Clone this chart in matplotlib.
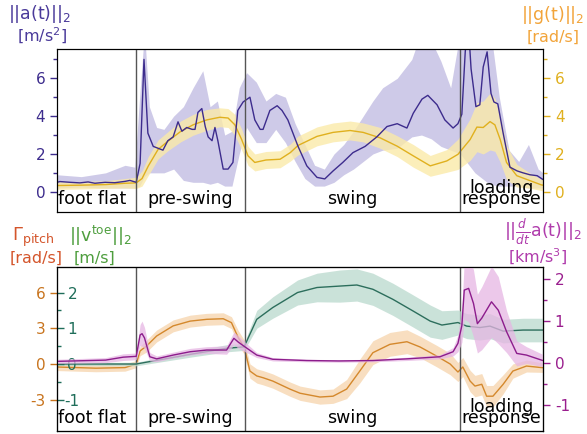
#Gait phase plot: IMU signals over one stride with mean and spread
import matplotlib.pyplot as plt

plt.rcParams["axes.unicode_minus"] = False

# phases (percent of stride)
phase_edges = [0, 16.3, 38.7, 82.9, 100]
phase_names = ["foot flat", "pre-swing", "swing", "loading\nresponse"]

# ||a(t)||_2 [m/s^2], mean line
acc_t = [0, 0.6, 2.7, 4.7, 6.4, 7.8, 9.9, 11.9, 14.0, 15.0, 16.3, 17.1, 17.9, 18.7, 19.8,
         21.8, 22.8, 23.9, 24.9, 25.7, 26.7, 27.8, 28.4, 29.0, 29.8, 30.5, 31.1, 31.9, 32.5,
         33.1, 34.2, 35.2, 36.2, 37.2, 38.3, 39.7, 40.7, 41.8, 42.4, 43.8, 45.3, 46.3, 47.5,
         49.6, 51.4, 53.5, 55.1, 56.8, 58.8, 60.9, 63.4, 65.8, 67.9, 70.0, 72.0, 73.3, 75.1,
         76.3, 78.2, 79.8, 81.5, 82.5, 83.3, 84.0, 84.6, 85.2, 86.2, 87.0, 87.7, 88.5, 89.3,
         89.9, 90.7, 91.8, 93.2, 94.7, 95.9, 97.3, 98.8, 99.8, 100]
acc_mean = [0.5, 0.54, 0.5, 0.47, 0.52, 0.45, 0.5, 0.48, 0.55, 0.6, 0.5, 1.5, 7.0, 3.1, 2.4,
            2.2, 2.7, 2.9, 3.7, 3.2, 3.4, 3.3, 3.3, 4.2, 4.4, 3.45, 2.9, 2.7, 3.4,
            2.7, 1.2, 1.2, 1.55, 4.3, 4.75, 5.0, 3.8, 3.3, 3.3, 4.3, 4.55, 4.3, 3.8,
            2.4, 1.37, 0.76, 0.68, 1.1, 1.55, 2.07, 2.4, 2.9, 3.45, 3.6, 3.37, 4.15, 4.9,
            5.1, 4.6, 3.8, 3.37, 3.6, 4.1, 7.4, 9.0, 6.5, 4.5, 4.6, 6.6, 7.4, 5.2,
            4.75, 4.65, 3.1, 1.3, 1.1, 1.0, 0.9, 0.85, 0.68, 0.65]
# spread band of ||a(t)||_2
acc_band_t = [0, 5, 10, 14, 16, 17, 18, 19, 20.5, 22, 24, 26, 28, 30, 31.5, 33, 34.5, 36,
              37.5, 39, 41, 43, 45, 47, 49, 51, 53, 55, 57, 59, 61, 63, 65, 67, 70, 73, 75,
              77, 79, 81, 83, 86, 89, 91, 93, 95, 97, 99, 100]
acc_lo = [0.2, 0.25, 0.2, 0.2, 0.2, 0.3, 0.8, 1.0, 1.0, 1.0, 1.2, 0.6, 0.5, 0.5, 0.4, 0.5, 0.3, 0.3,
          2.0, 3.4, 2.6, 2.6, 3.3, 2.6, 1.6, 0.7, 0.3, 0.3, 0.5, 0.9, 1.2, 1.6, 2.0, 2.2, 2.3, 2.9, 3.0,
          2.8, 2.4, 2.2, 2.0, 1.0, 0.4, 0.3, 0.3, 0.3, 0.2, 0.2, 0.2]
acc_hi = [0.9, 0.8, 1.0, 1.4, 1.3, 5.0, 8.5, 4.5, 3.4, 3.3, 4.0, 4.5, 5.5, 6.4, 4.5, 4.8, 3.0, 3.2,
          5.5, 6.3, 5.8, 4.8, 5.2, 5.0, 3.6, 2.5, 1.4, 1.2, 2.0, 2.5, 3.2, 4.0, 4.8, 5.5, 6.0, 7.0, 8.5,
          8.0, 6.9, 5.5, 8.5, 9.0, 9.0, 5.0, 2.2, 1.6, 2.5, 1.2, 1.0]

# ||g(t)||_2 [rad/s]
gyr_t = [0, 5, 10, 14, 16.3, 17.5, 18.8, 20.8, 22.8, 25.5, 28, 30.8, 33.5, 35.2, 36.6, 38,
         39.3, 40.7, 43, 45.9, 48, 49.6, 51.4, 53.5, 56.8, 60.3, 63, 66.5, 70, 73.3, 76.8,
         80.2, 82.5, 85, 86.4, 87.7, 89.1, 90.1, 91.2, 92.5, 94.6, 97.3, 99.7, 100]
gyr_mean = [0.33, 0.35, 0.38, 0.45, 0.47, 0.7, 1.37, 2.24, 2.67, 3.2, 3.54, 3.8, 3.94, 3.9, 3.54, 2.76,
            1.9, 1.55, 1.68, 1.72, 2.07, 2.45, 2.67, 2.93, 3.14, 3.24, 3.14, 2.85, 2.41, 1.9, 1.37,
            1.63, 1.98, 2.76, 3.42, 3.4, 3.71, 3.54, 2.76, 1.55, 0.85, 0.59, 0.36, 0.35]
gyr_sd = [0.2, 0.2, 0.2, 0.25, 0.3, 0.4, 0.5, 0.5, 0.5, 0.55, 0.55, 0.55, 0.5, 0.5, 0.55, 0.55,
          0.5, 0.45, 0.45, 0.45, 0.45, 0.5, 0.5, 0.5, 0.5, 0.5, 0.5, 0.55, 0.55, 0.6, 0.55,
          0.6, 0.8, 1.1, 1.3, 1.4, 1.5, 1.4, 1.2, 0.9, 0.6, 0.4, 0.3, 0.3]

# Gamma_pitch [rad/s]
pitch_t = [0, 8, 14, 16.3, 17.1, 18.4, 20.5, 23.9, 27.4, 30.8, 34.2, 35.9, 37.3, 38.5, 39.7,
           41.1, 42.4, 44.4, 47.9, 50, 54.1, 56.8, 59.6, 62.3, 65, 68.5, 72, 74.7, 78.1, 80.9,
           82.5, 83.5, 85, 86, 87.4, 88.4, 89.7, 91.8, 93.8, 96.6, 99.7, 100]
pitch_mean = [-0.25, -0.35, -0.3, 0.0, 1.1, 1.5, 2.35, 3.2, 3.6, 3.75, 3.8, 3.47, 2.2, 1.43, -0.59,
              -1.0, -1.15, -1.43, -2.1, -2.45, -2.77, -2.7, -2.1, -0.59, 0.95, 1.65, 1.87, 1.43, 0.67, 0.0,
              -0.67, -0.25, -1.43, -1.85, -1.7, -2.7, -2.7, -1.7, -0.59, -0.17, -0.3, -0.3]
pitch_sd = [0.3, 0.3, 0.3, 0.3, 0.4, 0.5, 0.5, 0.5, 0.5, 0.5, 0.5, 0.5, 0.6, 0.6, 0.6,
            0.6, 0.6, 0.6, 0.6, 0.6, 0.6, 0.6, 0.8, 1.0, 1.0, 1.0, 1.0, 0.9, 0.9, 0.9,
            0.8, 0.8, 0.9, 0.9, 0.9, 0.9, 0.9, 0.8, 0.6, 0.5, 0.4, 0.4]

# ||v_toe||_2 [m/s]
vel_t = [0, 16.3, 27.4, 34.9, 38.5, 41.1, 44.4, 49.5, 53.5, 58.2, 61.7, 65, 69.1, 73.3, 76.8,
         79.2, 82.5, 84.3, 87, 89.1, 91.8, 95.9, 100]
vel_mean = [0.0, 0.0, 0.27, 0.44, 0.48, 1.25, 1.58, 2.0, 2.14, 2.18, 2.21, 2.09, 1.81, 1.48, 1.2,
            1.09, 1.16, 1.06, 1.02, 1.06, 0.92, 0.95, 0.95]
vel_sd = [0.04, 0.05, 0.08, 0.1, 0.1, 0.25, 0.3, 0.35, 0.4, 0.45, 0.45, 0.45, 0.45, 0.45, 0.45,
          0.4, 0.35, 0.35, 0.35, 0.35, 0.33, 0.33, 0.33]

# ||d/dt a(t)||_2 [km/s^3]
jerk_t = [0, 10, 13.6, 16.3, 17.1, 17.5, 18.0, 19.1, 20.5, 23.9, 27.4, 30.8, 34.9, 36.4, 37.3,
          38.5, 41.1, 44.4, 51.4, 58, 65, 72, 78.8, 81.5, 82.5, 83.3, 83.8, 84.7, 85.7, 86.5,
          87.4, 89.4, 90.8, 92.5, 94.6, 96.6, 99.7, 100]
jerk_mean = [0.04, 0.07, 0.14, 0.16, 0.67, 0.7, 0.6, 0.15, 0.1, 0.19, 0.27, 0.31, 0.31, 0.59, 0.5,
             0.4, 0.19, 0.09, 0.06, 0.05, 0.06, 0.1, 0.15, 0.27, 0.47, 0.89, 1.74, 1.78, 1.42, 0.94,
             1.07, 1.46, 1.26, 0.75, 0.23, 0.19, 0.07, 0.06]
jerk_sd = [0.05, 0.06, 0.08, 0.08, 0.25, 0.3, 0.25, 0.1, 0.07, 0.07, 0.08, 0.08, 0.1, 0.15, 0.15,
           0.12, 0.06, 0.04, 0.03, 0.03, 0.03, 0.04, 0.05, 0.1, 0.2, 0.4, 0.7, 0.8, 0.8, 0.7,
           0.75, 0.85, 0.8, 0.5, 0.3, 0.2, 0.15, 0.15]

# colours
c_acc, c_acc_band = "#3d2c8d", "#c6c1e4"
c_gyr, c_gyr_band = "#e0b01e", "#fbeaa9"
c_pitch, c_pitch_band = "#d4882c", "#f7d9b5"
c_vel, c_vel_band = "#2c6e5c", "#b9d9cd"
c_jerk, c_jerk_band = "#8c1c8c", "#e6b6e3"


def shade_phases(ax):
    for x in phase_edges[1:-1]:
        ax.axvline(x, color="#555555", lw=1.0, zorder=5)
    for i, name in enumerate(phase_names):
        xm = (phase_edges[i] + phase_edges[i + 1]) / 2
        if i == 0:
            xm -= 1
        ax.text(xm, 0.022, name, transform=ax.get_xaxis_transform(), ha="center", va="bottom",
                fontsize=12.5, linespacing=0.5, color="black", zorder=6)


fig = plt.figure(figsize=(5.87, 4.34), dpi=100)
W, H = 587, 434
rect_top = [57 / W, 1 - 212 / H, 486 / W, 163 / H]
rect_bot = [57 / W, 1 - 431 / H, 486 / W, 164 / H]

# ---- top panel ----
ax_a = fig.add_axes(rect_top)
ax_a.fill_between(acc_band_t, acc_lo, acc_hi, color=c_acc_band, alpha=0.85, lw=0)
g_lo = [m - s for m, s in zip(gyr_mean, gyr_sd)]
g_hi = [m + s for m, s in zip(gyr_mean, gyr_sd)]
ax_a.fill_between(gyr_t, g_lo, g_hi, color=c_gyr_band, alpha=0.8, lw=0)
ax_a.plot(gyr_t, gyr_mean, color=c_gyr, lw=1.0)
ax_a.plot(acc_t, acc_mean, color=c_acc, lw=1.0)
ax_a.set_xlim(0, 100)
ax_a.set_ylim(-1.07, 7.55)
ax_a.set_xticks([])
ax_a.set_yticks([0, 2, 4, 6])
ax_a.set_yticks([1, 3, 5, 7], minor=True)
ax_a.tick_params(axis="y", which="both", colors=c_acc, labelsize=11, length=5, width=1)
ax_a.tick_params(axis="y", which="minor", length=3)
shade_phases(ax_a)

ax_g = ax_a.twinx()
ax_g.set_ylim(ax_a.get_ylim())
ax_g.set_yticks([0, 2, 4, 6])
ax_g.set_yticks([1, 3, 5, 7], minor=True)
ax_g.tick_params(axis="y", which="both", colors=c_gyr, labelsize=11, length=5, width=1)
ax_g.tick_params(axis="y", which="minor", length=3)

fig.text(40 / W, 1 - 14 / H, "||a(t)||$_2$", color="#4a3a9a", fontsize=12.5, ha="center", va="center")
fig.text(42 / W, 1 - 36 / H, "[m/s$^2$]", color="#4a3a9a", fontsize=11.5, ha="center", va="center")
fig.text(553 / W, 1 - 15 / H, "||g(t)||$_2$", color="#f2a43a", fontsize=12.5, ha="center", va="center")
fig.text(553 / W, 1 - 37 / H, "[rad/s]", color="#f2a43a", fontsize=11.5, ha="center", va="center")

# ---- bottom panel ----
ax_p = fig.add_axes(rect_bot)
p_lo = [m - s for m, s in zip(pitch_mean, pitch_sd)]
p_hi = [m + s for m, s in zip(pitch_mean, pitch_sd)]
ax_p.fill_between(pitch_t, p_lo, p_hi, color=c_pitch_band, alpha=0.85, lw=0)
ax_p.plot(pitch_t, pitch_mean, color=c_pitch, lw=1.0)
ax_p.set_xlim(0, 100)
ax_p.set_ylim(-5.62, 8.14)
ax_p.set_xticks([])
ax_p.set_yticks([-3, 0, 3, 6])
ax_p.tick_params(axis="y", colors="#c8741e", labelsize=11, length=5, width=1)
shade_phases(ax_p)

ax_v = ax_p.twinx()
v_lo = [m - s for m, s in zip(vel_mean, vel_sd)]
v_hi = [m + s for m, s in zip(vel_mean, vel_sd)]
ax_v.fill_between(vel_t, v_lo, v_hi, color=c_vel_band, alpha=0.75, lw=0)
ax_v.plot(vel_t, vel_mean, color=c_vel, lw=1.0)
ax_v.set_ylim(-5.62 / 3, 8.14 / 3)
ax_v.yaxis.tick_left()
ax_v.set_yticks([-1, 0, 1, 2])
ax_v.set_yticks([-0.5, 0.5, 1.5], minor=True)
ax_v.tick_params(axis="y", which="both", direction="in", colors="#1f6e5a", labelsize=11,
                 length=5, width=1, pad=-11)
ax_v.tick_params(axis="y", which="minor", length=3)
for lab in ax_v.get_yticklabels():
    lab.set_horizontalalignment("center")

ax_j = ax_p.twinx()
j_lo = [m - s for m, s in zip(jerk_mean, jerk_sd)]
j_hi = [m + s for m, s in zip(jerk_mean, jerk_sd)]
ax_j.fill_between(jerk_t, j_lo, j_hi, color=c_jerk_band, alpha=0.75, lw=0)
ax_j.plot(jerk_t, jerk_mean, color=c_jerk, lw=1.0)
ax_j.set_ylim(-1.62, 2.29)
ax_j.set_yticks([-1, 0, 1, 2])
ax_j.set_yticks([-0.5, 0.5, 1.5], minor=True)
ax_j.tick_params(axis="y", which="both", colors="#9a1e8e", labelsize=11, length=5, width=1)
ax_j.tick_params(axis="y", which="minor", length=3)

fig.text(33 / W, 1 - 237 / H, r"$\Gamma_{\mathrm{pitch}}$", color="#d4552b", fontsize=13, ha="center", va="center")
fig.text(36 / W, 1 - 258 / H, "[rad/s]", color="#d4552b", fontsize=11.5, ha="center", va="center")
fig.text(100 / W, 1 - 236 / H, r"||v$^{\mathrm{toe}}$||$_2$", color="#4e9e3e", fontsize=12.5, ha="center", va="center")
fig.text(94 / W, 1 - 258 / H, "[m/s]", color="#4e9e3e", fontsize=11.5, ha="center", va="center")
fig.text(543 / W, 1 - 232 / H, r"||$\frac{d}{dt}$a(t)||$_2$", color="#b03cac", fontsize=12.5, ha="center", va="center")
fig.text(538 / W, 1 - 257 / H, "[km/s$^3$]", color="#b03cac", fontsize=11.5, ha="center", va="center")

fig.savefig("out.png", dpi=100)
